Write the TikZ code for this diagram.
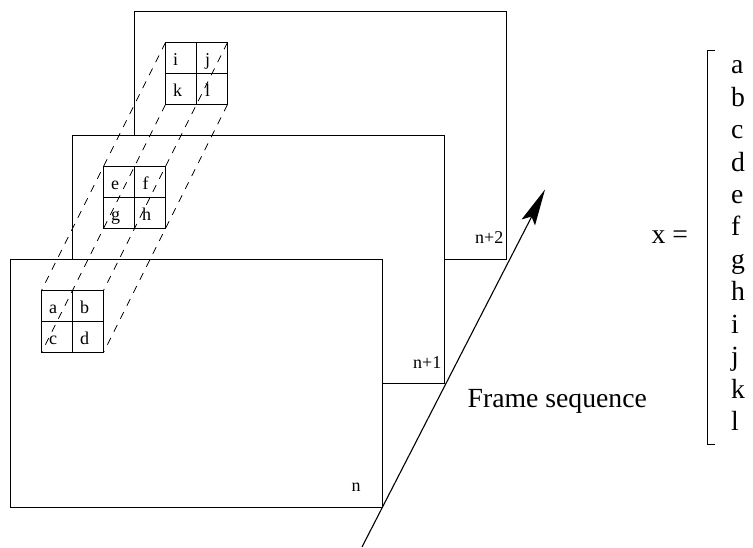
\documentclass[tikz,border=0pt]{standalone}
\usepackage{fontspec}
\setmainfont{Liberation Serif}
\tikzset{
  frameline/.style={draw=black,line width=0.9pt},
  gridline/.style={draw=black,line width=1pt},
  dashline/.style={draw=black,line width=0.75pt,dash pattern=on 7.5pt off 7pt},
  small/.style={font=\fontsize{18}{20}\selectfont,inner sep=0pt,anchor=base west},
  large/.style={font=\fontsize{27.7}{30}\selectfont,inner sep=0pt,anchor=base west}
}
\begin{document}
\begin{tikzpicture}[x=1pt,y=-1pt]
\useasboundingbox (0,0) rectangle (753,548);
% frames
\draw[frameline] (134.5,135) -- (134.5,11) -- (506.5,11) -- (506.5,259) -- (444.5,259);
\draw[frameline] (72.5,259) -- (72.5,135) -- (444.5,135) -- (444.5,383) -- (382.5,383);
\draw[frameline] (10.5,259) rectangle (382.5,507);
% grids
\foreach \x/\y in {165.5/42.5,103.5/166.5,41.5/290.5}{
  \draw[gridline] (\x,\y) rectangle (\x+62,\y+62);
  \draw[gridline] (\x+31,\y) -- (\x+31,\y+62);
  \draw[gridline] (\x,\y+31) -- (\x+62,\y+31);
}
% dashed
\coordinate (tl1) at (41.5,290.5); \coordinate (tl3) at (165.5,42.5);
\coordinate (bl1) at (41.5,352.5); \coordinate (bl3) at (165.5,104.5);
\coordinate (tr1) at (103.5,290.5); \coordinate (tr3) at (227.5,42.5);
\coordinate (br1) at (103.5,352.5); \coordinate (br3) at (227.5,104.5);
\draw[dashline] (tl3) -- (tl1);
\draw[dashline] (bl3) -- (bl1);
\draw[dashline] (tr3) -- (tr1);
\draw[dashline] (br3) -- (br1);
% cell letters
\foreach \t/\x/\y in {i/173/65.5,j/205/65.5,k/173/96.5,l/205/96.5,e/111/189.5,f/142.5/189.5,g/111/220.5,h/142/220.5,a/49/313.5,b/80/313.5,c/49/344.5,d/80/344.5}{
  \node[small] at (\x,\y) {\t};
}
\node[small] (n0) at (351.5,491.7) {n};
\node[small] (n2) at (475,244) {n+2};
\node[small] (n1) at (413,368.3) {n+1};
% arrow
\coordinate (as) at (362,547);
\coordinate (ae) at (532,216);
\draw[line width=1.1pt] (as) -- (ae);
\fill (545,189.5) -- (521.5,219.5) -- (531.5,216.5) -- (535,225.5) -- cycle;
\node[large] (fs) at (467.5,407.3) {Frame sequence};
\node[large] (xeq) at (651.5,244) {x =};
% bracket
\draw[line width=1pt] (715,51) -- (707.7,51) -- (707.7,444.7) -- (715,444.7);
\foreach \t/\y in {a/74,b/106.4,c/138.8,d/171.2,e/203.6,f/236,g/268.4,h/300.8,i/333.2,j/365.6,k/398,l/430.4}{
  \node[large] at (731,\y) {\t};
}
\end{tikzpicture}
\end{document}
